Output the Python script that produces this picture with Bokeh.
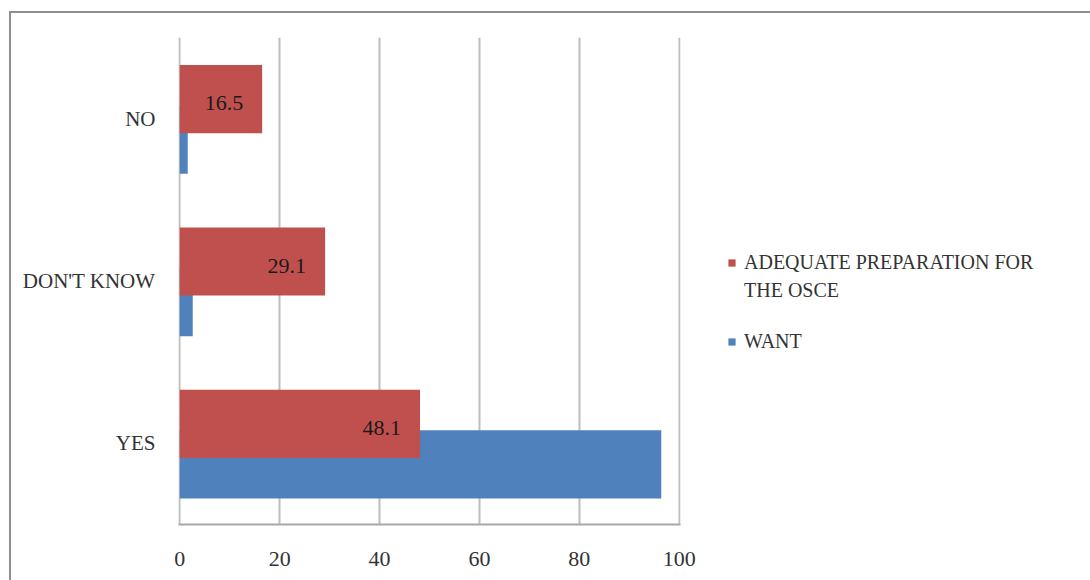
from bokeh.plotting import figure
from bokeh.models import FactorRange, Legend, LegendItem, ColumnDataSource, Range1d
from bokeh.transform import dodge
from bokeh.embed import file_html
from bokeh.resources import INLINE

categories = ["YES", "DON'T KNOW", "NO"]
adequate = [48.1, 29.1, 16.5]
want = [96.4, 2.6, 1.6]
adequate_labels = ["48.1", "29.1", "16.5"]
x_ticks = [0, 20, 40, 60, 80, 100]
legend_lines = ["ADEQUATE PREPARATION FOR", "THE OSCE\n ", "WANT"]

RED = "#C0504D"
BLUE = "#4F81BD"
FONT = "Liberation Serif"

src = ColumnDataSource(dict(cat=categories, adequate=adequate, want=want, lab=adequate_labels))

p = figure(frame_width=502, frame_height=487, y_range=FactorRange(factors=categories, range_padding=0),
           x_range=Range1d(-0.25, 100.25), output_backend="svg", toolbar_location=None,
           min_border_left=167, min_border_right=0, min_border_top=24, min_border_bottom=56)
p.styles = {"margin-left": "9px", "margin-top": "11px",
            "border-left": "2px solid #8f8f8f", "border-top": "2px solid #8f8f8f"}

rb = p.hbar(y=dodge("cat", -0.13, range=p.y_range), left=0, right="want", height=0.42,
            source=src, fill_color=BLUE, line_color=None)
rr = p.hbar(y=dodge("cat", 0.12, range=p.y_range), left=0, right="adequate", height=0.42,
            source=src, fill_color=RED, line_color=None)
blank = p.scatter(x=[], y=[], fill_alpha=0, line_alpha=0)
p.text(x="adequate", y=dodge("cat", 0.12, range=p.y_range), text="lab", source=src,
       text_align="right", text_baseline="middle", x_offset=-19, y_offset=4,
       text_font="Liberation Serif", text_font_size="22px", text_color="#1a1a1a")

p.xgrid.grid_line_color = "#bdbdbd"
p.xgrid.grid_line_width = 2
p.ygrid.grid_line_color = None
p.xaxis.ticker = x_ticks
p.xaxis.axis_line_color = "#a8a8a8"
p.xaxis.axis_line_width = 2
p.xaxis.major_tick_line_color = None
p.xaxis.minor_tick_line_color = None
p.xaxis.major_label_standoff = 21
p.xaxis.major_label_text_font = FONT
p.xaxis.major_label_text_font_size = "22px"
p.xaxis.major_label_text_color = "#333333"

p.yaxis.axis_line_color = None
p.yaxis.major_tick_line_color = None
p.yaxis.major_label_standoff = 17
p.yaxis.major_label_text_font = FONT
p.yaxis.major_label_text_font_size = "21px"
p.yaxis.major_label_text_color = "#333333"

p.outline_line_color = None

legend = Legend(items=[LegendItem(label=legend_lines[0], renderers=[rr]),
                       LegendItem(label=legend_lines[1], renderers=[blank]),
                       LegendItem(label=legend_lines[2], renderers=[rb])],
                location=(47, 171))
legend.border_line_color = None
legend.background_fill_alpha = 0
legend.padding = 0
legend.margin = 0
legend.spacing = 5
legend.glyph_width = 9
legend.glyph_height = 9
legend.label_standoff = 8
legend.label_text_font = FONT
legend.label_text_font_size = "20px"
legend.label_text_color = "#333333"
p.add_layout(legend, "right")

open("out.html", "w").write(file_html(p, INLINE))
